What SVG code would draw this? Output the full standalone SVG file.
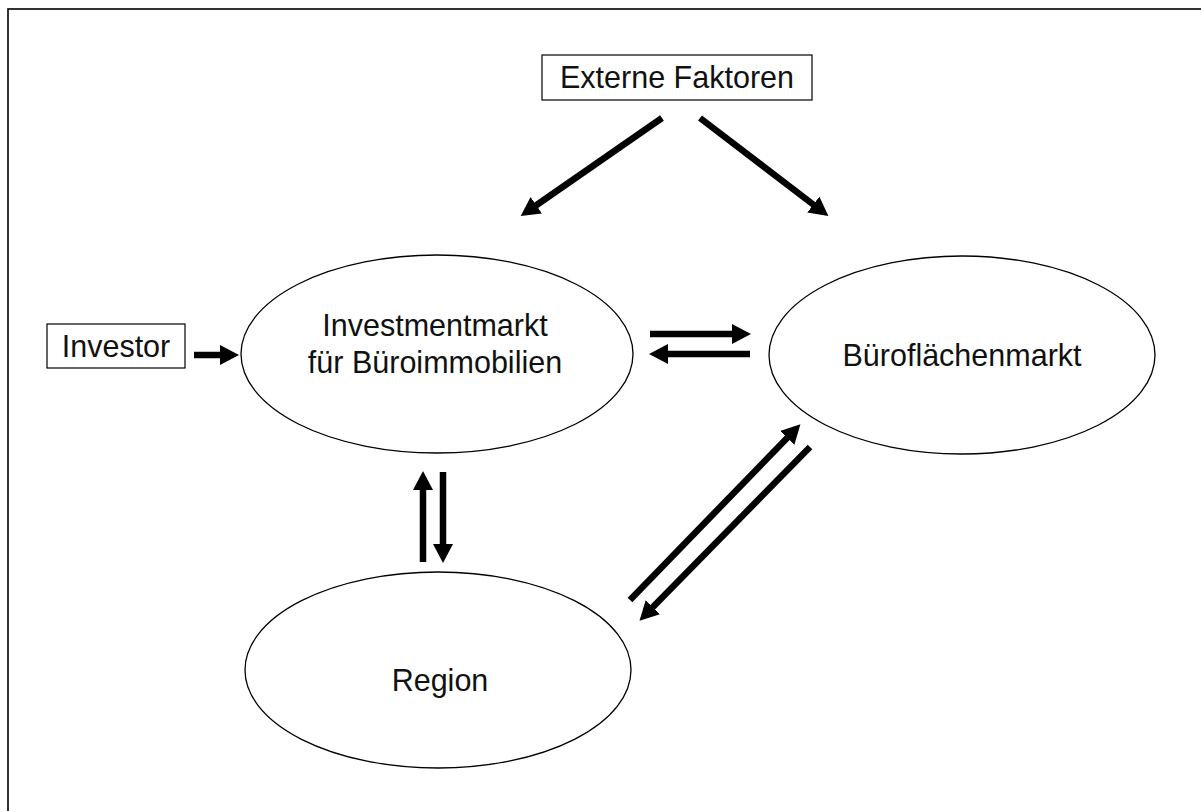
<svg xmlns="http://www.w3.org/2000/svg" width="1201" height="811" viewBox="0 0 1201 811">
<style>
.box{fill:#fff;stroke:#000;stroke-width:1.2}
.ell{fill:#fff;stroke:#000;stroke-width:1.3}
.t{font-family:"Liberation Sans",Arial,sans-serif;font-size:30.5px;fill:#111;text-anchor:middle}
.arr{stroke:#000;stroke-width:6.5;fill:none;marker-end:url(#ah)}
</style>
<defs>
<marker id="ah" markerUnits="userSpaceOnUse" markerWidth="20" markerHeight="20" refX="4" refY="10" orient="auto" viewBox="0 0 20 20">
<path d="M0,0 L19,10 L0,20 z" fill="#000"/>
</marker>
</defs>
<rect x="0" y="0" width="1201" height="811" fill="#fff"/>
<rect x="8" y="9" width="1200" height="810" fill="none" stroke="#000" stroke-width="1.6"/>
<g id="externe"><rect class="box" x="542" y="55" width="270" height="45"/><text class="t" x="677" y="88">Externe Faktoren</text></g>
<g id="investor"><rect class="box" x="47" y="324" width="138" height="44"/><text class="t" x="116" y="357">Investor</text></g>
<g id="investmentmarkt"><ellipse class="ell" cx="437" cy="354" rx="196" ry="99"/><text class="t" x="435" y="336">Investmentmarkt</text><text class="t" x="435" y="373">für Büroimmobilien</text></g>
<g id="bueroflaechenmarkt"><ellipse class="ell" cx="962" cy="355" rx="193" ry="99"/><text class="t" x="962" y="366">Büroflächenmarkt</text></g>
<g id="region"><ellipse class="ell" cx="438" cy="670" rx="193" ry="98"/><text class="t" x="440" y="691">Region</text></g>
<g id="connectors">
<line class="arr" x1="662" y1="118" x2="533" y2="207.5"/>
<line class="arr" x1="700" y1="118" x2="816.5" y2="207"/>
<line class="arr" x1="194" y1="355" x2="224" y2="355"/>
<line class="arr" x1="650" y1="334" x2="736" y2="334"/>
<line class="arr" x1="750" y1="354" x2="664" y2="354"/>
<line class="arr" x1="423" y1="562" x2="423" y2="486"/>
<line class="arr" x1="443" y1="472" x2="443" y2="548"/>
<line class="arr" x1="630" y1="600" x2="790" y2="435"/>
<line class="arr" x1="810" y1="447" x2="650" y2="610"/>
</g>
</svg>
